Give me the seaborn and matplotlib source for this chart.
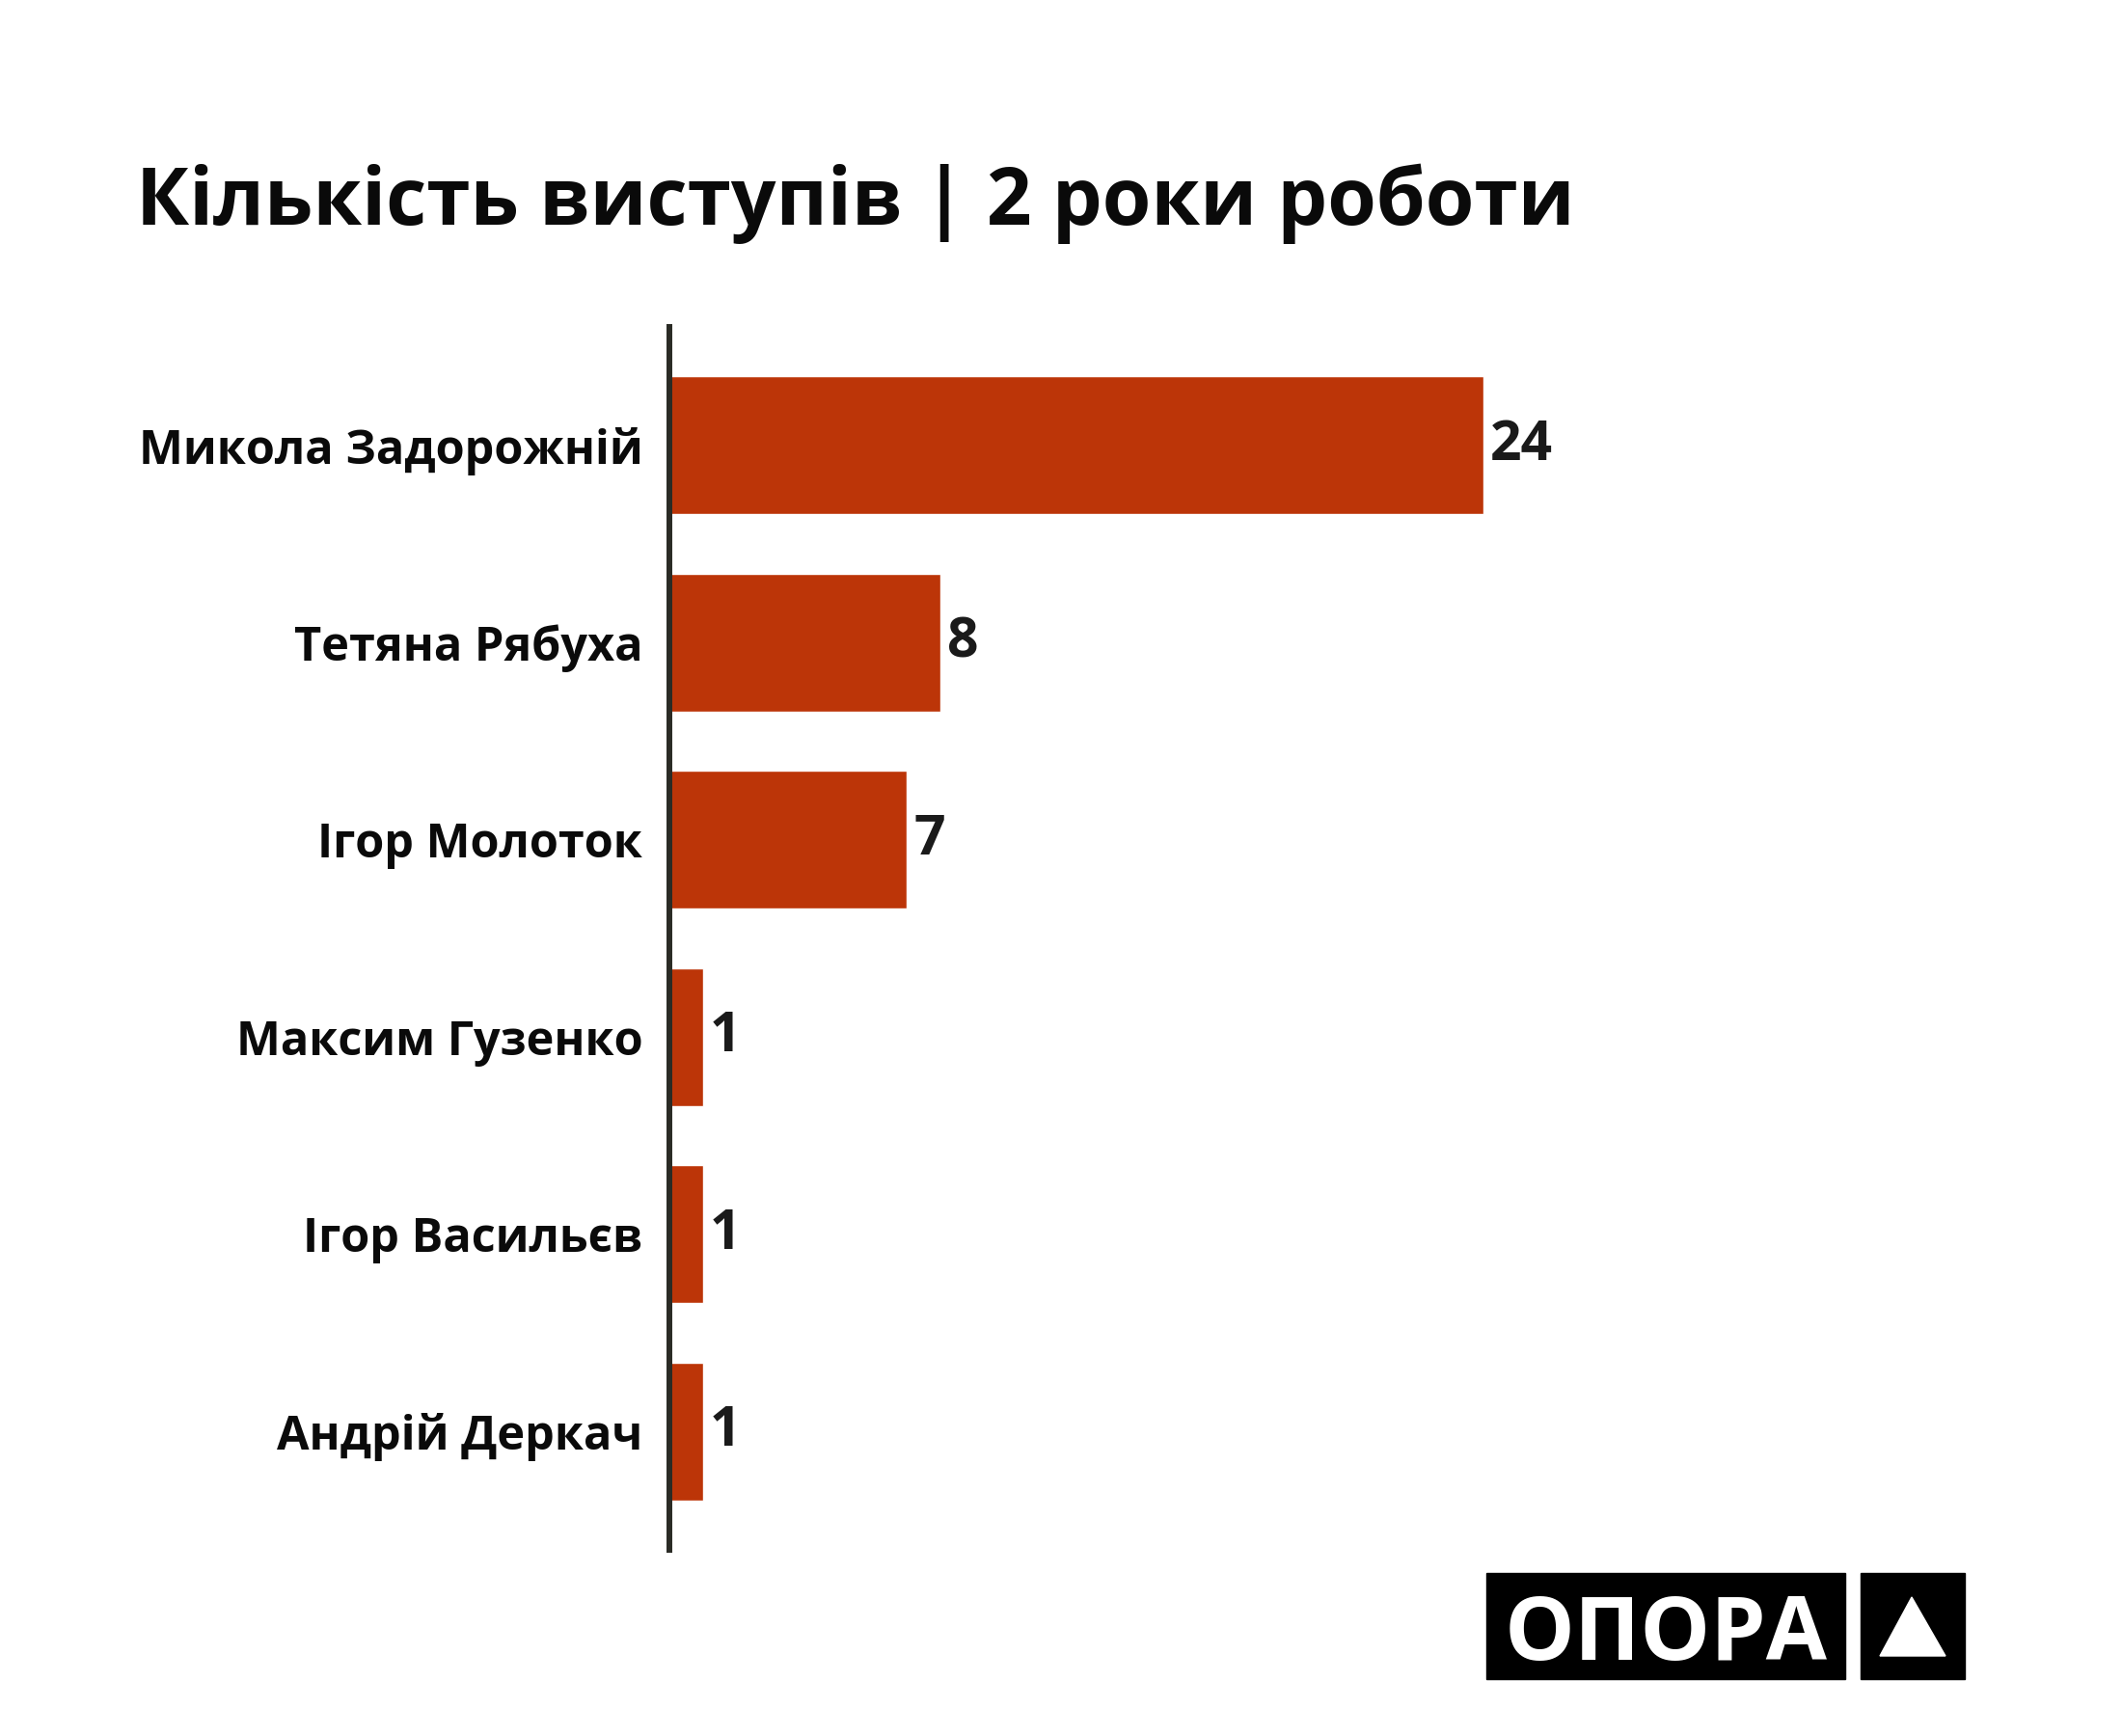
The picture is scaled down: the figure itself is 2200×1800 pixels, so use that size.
import pandas as pd
import matplotlib.pyplot as plt
import seaborn as sns
from matplotlib.patches import Rectangle, Polygon

# дані
names = ['Микола Задорожній', 'Тетяна Рябуха', 'Ігор Молоток',
         'Максим Гузенко', 'Ігор Васильєв', 'Андрій Деркач']
counts = [24, 8, 7, 1, 1, 1]
title = 'Кількість виступів | 2 роки роботи'

df = pd.DataFrame({'name': names, 'count': counts})

sns.set_style('white')
plt.rcParams['font.family'] = ['Open Sans', 'DejaVu Sans']

fig = plt.figure(figsize=(22, 18), dpi=100)
ax = fig.add_axes([0.3155, 0.1072, 0.615, 0.7045])

sns.barplot(data=df, x='count', y='name', orient='h', color='#BC3508',
            width=0.7, saturation=1, ax=ax)

ax.set_xlim(0, 38.5)
ax.set_ylim(5.6, -0.6)
ax.set_xlabel('')
ax.set_ylabel('')
ax.set_xticks([])
ax.tick_params(axis='y', length=0, pad=20)
for lbl in ax.get_yticklabels():
    lbl.set_fontsize(35)
    lbl.set_fontweight('bold')
    lbl.set_color('#0a0a0a')

for side in ['top', 'right', 'bottom']:
    ax.spines[side].set_visible(False)
ax.spines['left'].set_color('#2a2b25')
ax.spines['left'].set_linewidth(4.3)

for c in ax.containers:
    ax.bar_label(c, padding=5, fontsize=41, fontweight='bold', color='#1a1a1a')

fig.text(141 / 2200, 1 - 233 / 1800, title, fontsize=59, fontweight='bold',
         color='#0a0a0a', ha='left', va='baseline')

# логотип
fig.patches.append(Rectangle((1541 / 2200, 1 - 1741 / 1800), 372 / 2200, 110 / 1800,
                             transform=fig.transFigure, color='black'))
fig.patches.append(Rectangle((1929 / 2200, 1 - 1741 / 1800), 108 / 2200, 110 / 1800,
                             transform=fig.transFigure, color='black'))
fig.patches.append(Polygon([(1982 / 2200, 1 - 1656 / 1800),
                            (1949 / 2200, 1 - 1717 / 1800),
                            (2017 / 2200, 1 - 1717 / 1800)],
                           closed=True, transform=fig.transFigure, color='white'))
fig.text(1727 / 2200, 1 - 1686 / 1800, 'ОПОРА', fontsize=66, fontweight='bold',
         color='white', ha='center', va='center_baseline')

fig.savefig('out.png', dpi=100, facecolor='white')
